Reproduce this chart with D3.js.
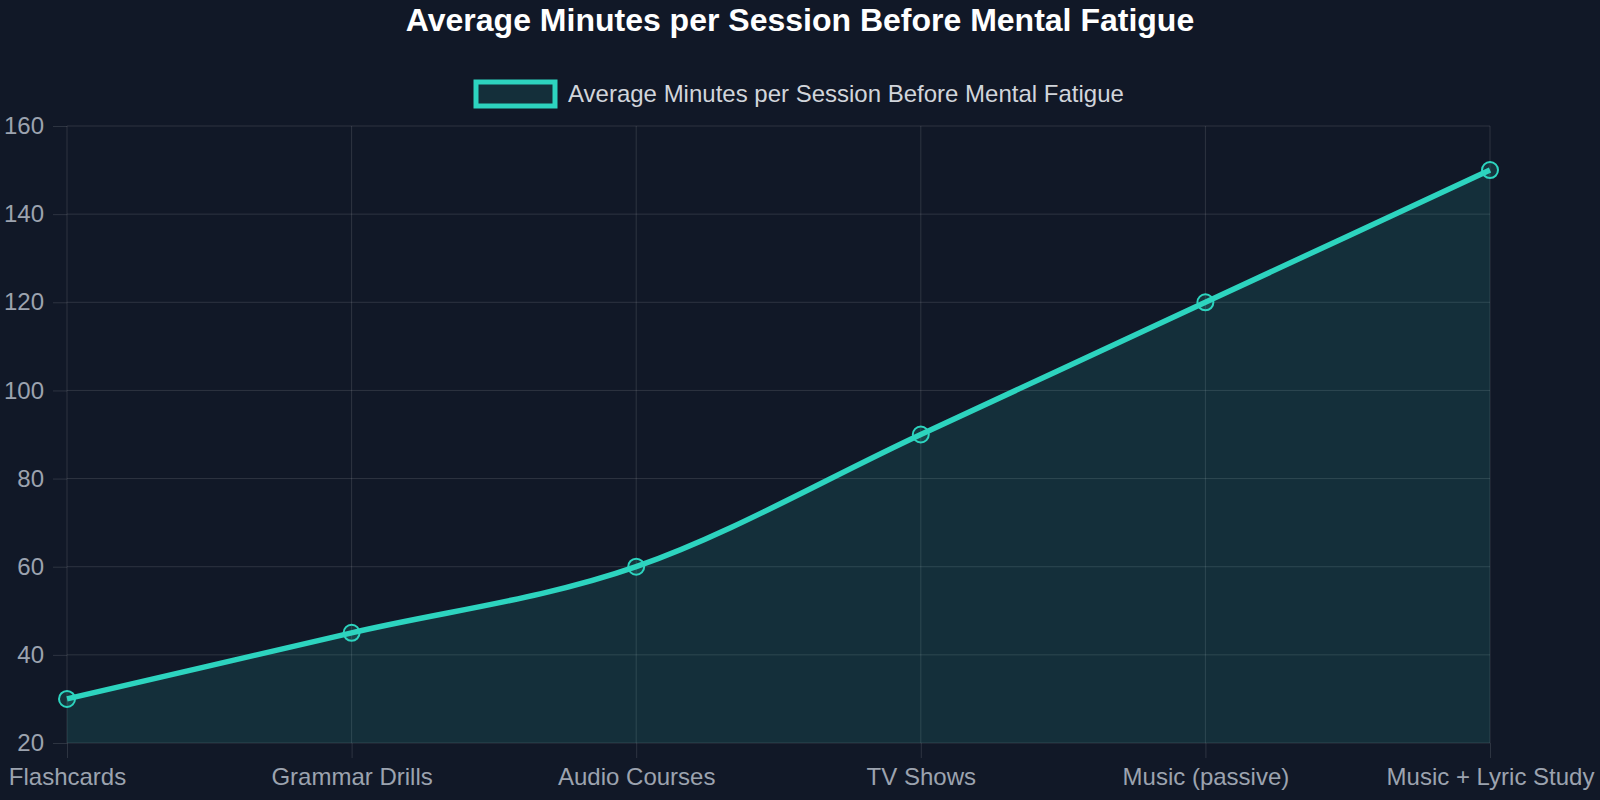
<!DOCTYPE html>
<html>
<head>
<meta charset="utf-8">
<style>
    body { margin: 0; background: #111827; }
    svg { display: block; font-family: 'Liberation Sans', Arial, sans-serif; }
    .grid line { stroke: rgba(255, 255, 255, 0.12); stroke-width: 1; }
    .axis .domain { display: none; }
    .axis .tick line { stroke: rgba(255, 255, 255, 0.12); }
    .axis .tick text { fill: #9ca3af; font-size: 24px; }
</style>
</head>
<body>
<svg width="1600" height="800"></svg>
<script src="https://d3js.org/d3.v7.min.js"></script>
<script>
let categories = ["Flashcards", "Grammar Drills", "Audio Courses", "TV Shows", "Music (passive)", "Music + Lyric Study"]
let minutes = [30, 45, 60, 90, 120, 150]
let yTicks = [20, 40, 60, 80, 100, 120, 140, 160]
let seriesName = "Average Minutes per Session Before Mental Fatigue"

let width = 1600
let height = 800
let margin = {top: 126, right: 110, bottom: 57, left: 67}
let teal = "#2dd4bf"

let svg = d3.select("svg")

let x = d3.scalePoint()
    .domain(categories)
    .range([margin.left, width - margin.right])

let y = d3.scaleLinear()
    .domain([20, 160])
    .range([height - margin.bottom, margin.top])

let data = categories.map((c, i) => ({cat: c, value: minutes[i]}))

// grid
let grid = svg.append("g").attr("class", "grid")
grid.selectAll(".h")
    .data(yTicks)
    .join("line")
    .attr("x1", margin.left)
    .attr("x2", width - margin.right)
    .attr("y1", d => y(d))
    .attr("y2", d => y(d))
grid.selectAll(".v")
    .data(categories)
    .join("line")
    .attr("x1", d => x(d))
    .attr("x2", d => x(d))
    .attr("y1", margin.top)
    .attr("y2", height - margin.bottom)

// area + line
let area = d3.area()
    .x(d => x(d.cat))
    .y0(y(20))
    .y1(d => y(d.value))
    .curve(d3.curveMonotoneX)

let line = d3.line()
    .x(d => x(d.cat))
    .y(d => y(d.value))
    .curve(d3.curveMonotoneX)

svg.append("path")
    .datum(data)
    .attr("fill", "rgba(45, 212, 191, 0.13)")
    .attr("d", area)

svg.append("path")
    .datum(data)
    .attr("fill", "none")
    .attr("stroke", teal)
    .attr("stroke-width", 5.5)
    .attr("d", line)

svg.selectAll(".pt")
    .data(data)
    .join("circle")
    .attr("cx", d => x(d.cat))
    .attr("cy", d => y(d.value))
    .attr("r", 8)
    .attr("fill", "rgba(45, 212, 191, 0.15)")
    .attr("stroke", teal)
    .attr("stroke-width", 2)

// axes
let yAxis = d3.axisLeft(y)
    .tickValues(yTicks)
    .tickSize(14)
    .tickPadding(9)
svg.append("g")
    .attr("class", "y axis")
    .attr("transform", `translate(${margin.left}, 0)`)
    .call(yAxis)

svg.append("g")
    .attr("class", "x axis")
    .attr("transform", `translate(0, ${height - margin.bottom})`)
    .call(d3.axisBottom(x).tickSize(15).tickPadding(10))

// title
svg.append("text")
    .attr("x", width / 2)
    .attr("y", 31)
    .attr("text-anchor", "middle")
    .attr("fill", "#ffffff")
    .style("font-size", "32px")
    .style("font-weight", "bold")
    .text(seriesName)

// legend
svg.append("rect")
    .attr("x", 476)
    .attr("y", 82)
    .attr("width", 79)
    .attr("height", 24)
    .attr("fill", "rgba(45, 212, 191, 0.13)")
    .attr("stroke", teal)
    .attr("stroke-width", 5)

svg.append("text")
    .attr("x", 568)
    .attr("y", 102)
    .attr("fill", "#d1d5db")
    .style("font-size", "24px")
    .text(seriesName)
</script>
</body>
</html>
